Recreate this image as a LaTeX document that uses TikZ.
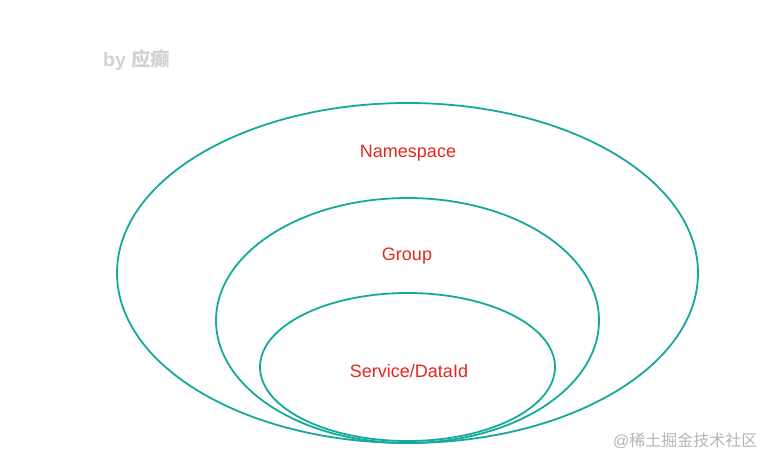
\documentclass[tikz,border=0pt]{standalone}
\usepackage{fontspec}
\setmainfont{Liberation Sans}
\newfontfamily\cjk{Noto Sans CJK SC}
\definecolor{ring}{HTML}{14A99B}
\definecolor{lbl}{HTML}{E2271C}
\definecolor{sig}{HTML}{D2D2D2}
\definecolor{wm}{HTML}{B4B4B4}
\begin{document}
\begin{tikzpicture}[x=1pt,y=-1pt,
  ringline/.style={draw=ring,line width=1.8pt},
  lab/.style={text=lbl,font=\fontsize{18}{21}\selectfont,inner sep=0pt}]
\useasboundingbox (0,0) rectangle (772,467);
\draw[ringline] (407.5,273) ellipse [x radius=290.5, y radius=170] node[coordinate] (outer) {};
\draw[ringline] (407.5,320.5) ellipse [x radius=191.5, y radius=122.5] node[coordinate] (middle) {};
\draw[ringline] (407.5,367) ellipse [x radius=147.5, y radius=74] node[coordinate] (inner) {};
\node[lab] (ns) at (408,153.5) {Namespace};
\node[lab] (grp) at (407,256.5) {Group};
\node[lab] (svc) at (409,371) {Service/DataId};
\node[text=sig,font=\fontsize{19.5}{22}\selectfont\bfseries,inner sep=0pt,anchor=west] (by) at (103,60) {by \cjk 应癫};
\node[text=wm,font=\fontsize{16}{19}\selectfont,inner sep=0pt,anchor=west] (wmk) at (613,441) {@\cjk 稀土掘金技术社区};
\end{tikzpicture}
\end{document}
